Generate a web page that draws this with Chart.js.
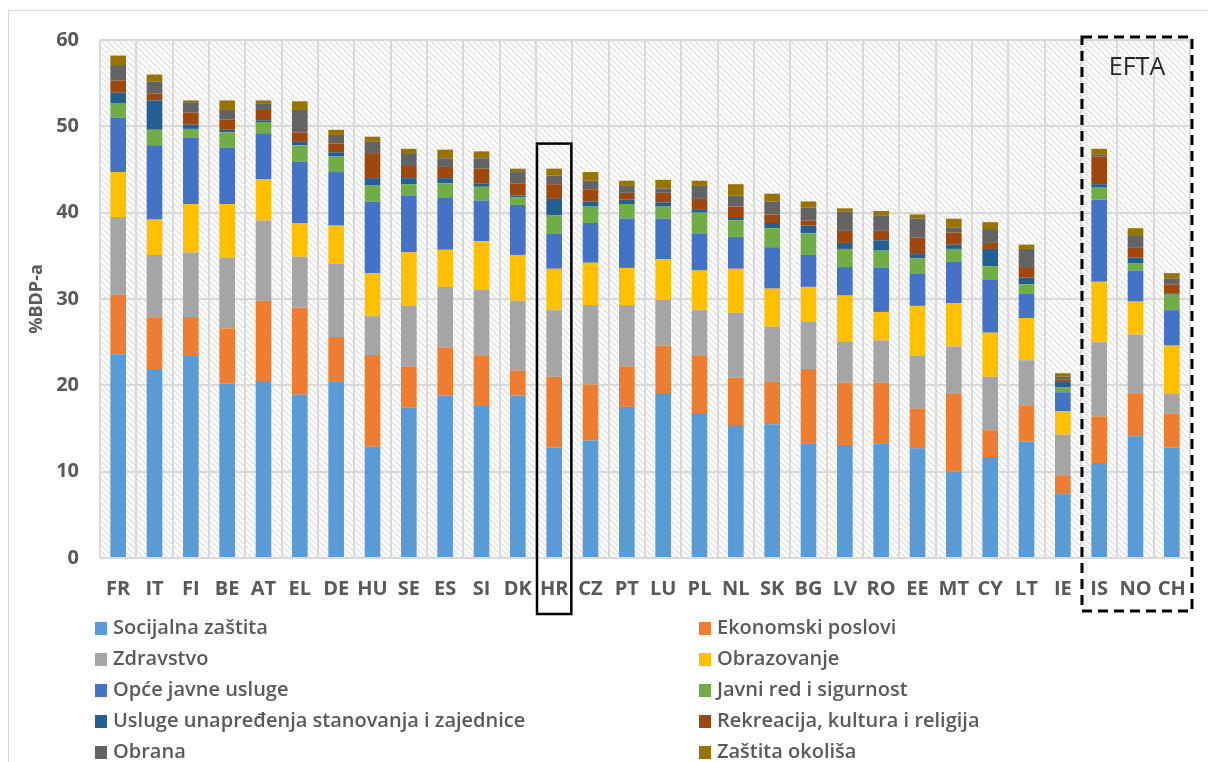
<!DOCTYPE html>
<html>
<head>
<meta charset="utf-8">
<script src="https://cdn.jsdelivr.net/npm/chart.js@4.4.1/dist/chart.umd.min.js"></script>
<style>
  html, body { margin: 0; padding: 0; background: #fff; }
  #wrap { position: relative; width: 1208px; height: 762px; overflow: hidden; }
  #frame { position: absolute; left: 8px; top: 10px; width: 1300px; height: 800px; border: 1px solid #d9d9d9; box-sizing: border-box; }
  canvas { position: absolute; left: 0; top: 0; }
  .lg { position: absolute; height: 24px; line-height: 24px; font-family: "Open Sans", sans-serif; font-size: 20px; font-weight: 600; color: #595959; white-space: nowrap; }
  .lg i { display: inline-block; width: 12px; height: 13px; margin-right: 6px; vertical-align: -1px; }
</style>
</head>
<body>
<div id="wrap">
  <div id="frame"></div>
  <canvas id="c" width="1208" height="762"></canvas>
  <div id="legend"></div>
</div>
<script>
const categories = ['FR','IT','FI','BE','AT','EL','DE','HU','SE','ES','SI','DK','HR','CZ','PT','LU','PL','NL','SK','BG','LV','RO','EE','MT','CY','LT','IE','IS','NO','CH'];

const socijalnaZastita = [23.6,21.9,23.4,20.2,20.5,18.9,20.4,12.9,17.4,18.8,17.6,18.8,12.8,13.6,17.5,19.1,16.8,15.4,15.5,13.3,13.1,13.3,12.7,10.0,11.7,13.5,7.4,11.0,14.1,12.8];
const ekonomskiPoslovi = [6.9,6.0,4.5,6.4,9.3,10.1,5.2,10.6,4.8,5.6,5.8,2.9,8.2,6.5,4.7,5.5,6.6,5.5,4.9,8.6,7.2,7.0,4.6,9.0,3.1,4.1,2.1,5.4,4.9,3.9];
const zdravstvo = [9.0,7.2,7.5,8.2,9.3,5.9,8.5,4.5,7.0,7.0,7.7,8.1,7.7,9.2,7.1,5.3,5.3,7.5,6.4,5.5,4.8,4.9,6.1,5.5,6.2,5.3,4.8,8.6,6.9,2.3];
const obrazovanje = [5.2,4.1,5.6,6.2,4.8,3.9,4.4,5.0,6.2,4.3,5.6,5.3,4.8,4.9,4.3,4.7,4.6,5.1,4.4,4.0,5.3,3.3,5.8,5.0,5.1,4.9,2.7,7.0,3.8,5.6];
const opceJavneUsluge = [6.3,8.6,7.7,6.5,5.3,7.1,6.2,8.3,6.6,6.0,4.7,5.8,4.1,4.6,5.7,4.7,4.3,3.7,4.8,3.7,3.3,5.1,3.7,4.8,6.1,2.8,2.2,9.5,3.6,4.1];
const javniRed = [1.7,1.8,1.0,1.8,1.3,1.9,1.8,1.9,1.3,1.7,1.6,0.9,2.1,1.9,1.7,1.4,2.4,1.9,2.2,2.5,2.1,2.0,1.8,1.5,1.6,1.1,0.6,1.4,0.8,1.8];
const uslugeStanovanja = [1.2,3.4,0.5,0.3,0.2,0.4,0.5,0.8,0.7,0.6,0.4,0.2,1.9,0.6,0.5,0.5,0.4,0.4,0.6,0.9,0.7,1.2,0.5,0.5,2.0,0.8,0.6,0.4,0.7,0.1];
const rekreacija = [1.4,0.8,1.4,1.2,1.3,1.1,1.0,2.9,1.4,1.3,1.7,1.4,1.7,1.4,0.8,1.1,1.2,1.2,1.0,0.6,1.4,1.1,1.9,1.4,0.7,1.2,0.3,3.2,1.2,1.1];
const obrana = [1.8,1.4,1.2,1.1,0.6,2.6,1.0,1.3,1.5,1.0,1.2,1.3,1.0,1.0,0.8,0.5,1.5,1.3,1.5,1.5,2.2,1.8,2.2,0.6,1.6,2.1,0.3,0.2,1.4,0.7];
const zastitaOkolisa = [1.1,0.8,0.2,1.1,0.4,1.0,0.6,0.6,0.5,1.0,0.8,0.4,0.8,1.0,0.6,1.0,0.6,1.3,0.9,0.7,0.4,0.5,0.5,1.0,0.8,0.5,0.4,0.7,0.8,0.6];

const seriesNames = ['Socijalna zaštita','Ekonomski poslovi','Zdravstvo','Obrazovanje','Opće javne usluge','Javni red i sigurnost','Usluge unapređenja stanovanja i zajednice','Rekreacija, kultura i religija','Obrana','Zaštita okoliša'];
const seriesData = [socijalnaZastita, ekonomskiPoslovi, zdravstvo, obrazovanje, opceJavneUsluge, javniRed, uslugeStanovanja, rekreacija, obrana, zastitaOkolisa];
const seriesColors = ['#5B9BD5','#ED7D31','#A5A5A5','#FFC000','#4472C4','#70AD47','#255E91','#9E480E','#636363','#997300'];

const yTicks = [0,10,20,30,40,50,60];
const highlighted = 'HR';
const highlightTop = 48;
const eftaGroup = ['IS','NO','CH'];
const eftaLabel = 'EFTA';
const yTitle = '%BDP-a';

// legend (HTML)
const legendEl = document.getElementById('legend');
seriesNames.forEach((n, i) => {
  const col = i % 2, row = Math.floor(i / 2);
  const d = document.createElement('div');
  d.className = 'lg';
  d.style.left = (col === 0 ? 95 : 699) + 'px';
  d.style.top = (615 + row * 31) + 'px';
  d.innerHTML = '<i style="background:' + seriesColors[i] + '"></i>' + n;
  legendEl.appendChild(d);
});

function makeHatch() {
  const t = document.createElement('canvas');
  t.width = 6; t.height = 6;
  const c = t.getContext('2d');
  c.fillStyle = '#ffffff'; c.fillRect(0,0,6,6);
  c.strokeStyle = '#e2e2e2'; c.lineWidth = 1.4;
  c.beginPath();
  c.moveTo(-1,-1); c.lineTo(7,7);
  c.moveTo(-4,2); c.lineTo(4,10);
  c.moveTo(2,-4); c.lineTo(10,4);
  c.stroke();
  return t;
}

const hatchPlugin = {
  id: 'hatch',
  beforeDraw(chart) {
    const {ctx, chartArea: a} = chart;
    ctx.save();
    ctx.fillStyle = ctx.createPattern(makeHatch(), 'repeat');
    ctx.fillRect(a.left, a.top, a.right - a.left, a.bottom - a.top);
    ctx.restore();
  }
};

const boxPlugin = {
  id: 'boxes',
  afterDraw(chart) {
    const {ctx, chartArea: a} = chart;
    const xs = chart.scales.x, ys = chart.scales.y;
    const cw = (a.right - a.left) / categories.length;
    ctx.save();
    // highlighted country
    const hi = categories.indexOf(highlighted);
    const hx = xs.getPixelForValue(hi);
    const ht = ys.getPixelForValue(highlightTop);
    ctx.strokeStyle = '#000'; ctx.lineWidth = 2.5;
    ctx.strokeRect(hx - cw/2 + 1, ht, cw - 2, a.bottom + 56 - ht);
    // EFTA group
    const i0 = categories.indexOf(eftaGroup[0]);
    const i1 = categories.indexOf(eftaGroup[eftaGroup.length-1]);
    const ex0 = xs.getPixelForValue(i0) - cw/2 + 1;
    const ex1 = xs.getPixelForValue(i1) + cw/2 + 2;
    const et = ys.getPixelForValue(60) - 3;
    ctx.lineWidth = 3;
    ctx.setLineDash([10,6]);
    ctx.strokeRect(ex0, et, ex1 - ex0, a.bottom + 53 - et);
    ctx.setLineDash([]);
    ctx.fillStyle = '#262626';
    ctx.font = '25px "Open Sans", sans-serif';
    ctx.textAlign = 'center'; ctx.textBaseline = 'middle';
    ctx.fillText(eftaLabel, (ex0 + ex1)/2, et + 31);
    ctx.restore();
  }
};

new Chart(document.getElementById('c'), {
  type: 'bar',
  data: {
    labels: categories,
    datasets: seriesData.map((d, i) => ({
      label: seriesNames[i],
      data: d,
      backgroundColor: seriesColors[i],
      borderWidth: 0,
      barPercentage: 0.43,
      categoryPercentage: 1.0
    }))
  },
  options: {
    responsive: false,
    animation: false,
    devicePixelRatio: 1,
    layout: { padding: { left: 0, right: 18, top: 40, bottom: 164 } },
    plugins: { legend: { display: false }, tooltip: { enabled: false } },
    scales: {
      x: {
        stacked: true,
        grid: { color: '#d9d9d9', lineWidth: 2, drawTicks: false, offset: true },
        border: { display: false },
        ticks: { color: '#595959', font: { family: '"Open Sans", sans-serif', size: 20, weight: 'bold' }, padding: 19, maxRotation: 0, autoSkip: false },
        afterFit(s) { s.height = 40; }
      },
      y: {
        stacked: true,
        min: 0, max: 60,
        afterBuildTicks(s) { s.ticks = yTicks.map(v => ({ value: v })); },
        grid: { color: '#d9d9d9', lineWidth: 2, drawTicks: false },
        border: { display: false },
        ticks: { color: '#595959', font: { family: '"Open Sans", sans-serif', size: 20, weight: 'bold' }, padding: 21 },
        title: { display: true, text: yTitle, color: '#595959', font: { family: '"Open Sans", sans-serif', size: 18, weight: 'bold' }, padding: { top: 26 } },
        afterFit(s) { s.width = 100; }
      }
    }
  },
  plugins: [hatchPlugin, boxPlugin]
});
</script>
</body>
</html>
